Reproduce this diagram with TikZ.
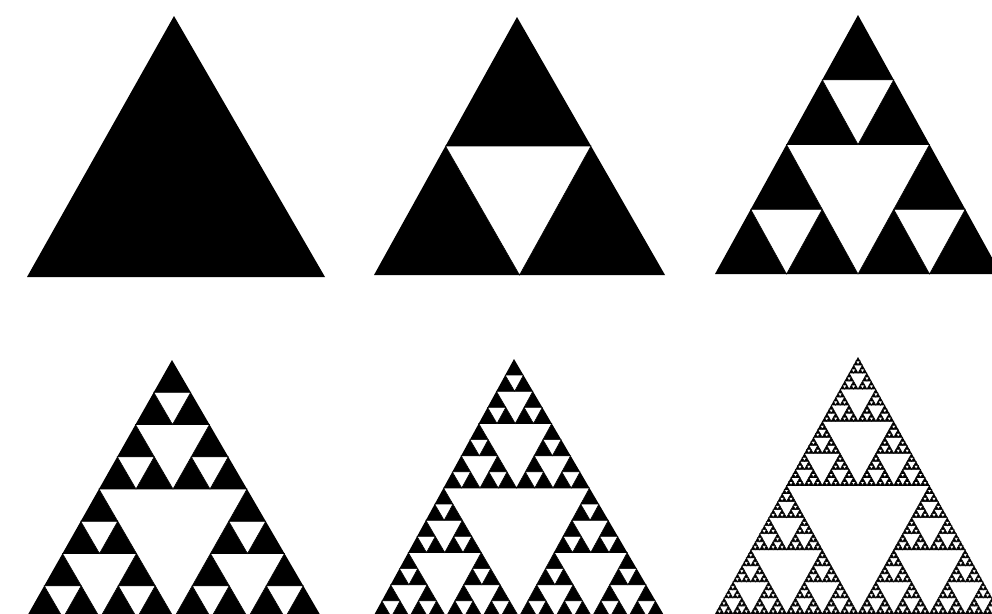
\documentclass[tikz,border=0pt]{standalone}

% holes of a Sierpinski gasket: depth, then the three corners
\newcommand\gasketholes[7]{%
  \ifnum#1>0\relax
    \begingroup
    \pgfmathsetmacro\hax{(#2+#4)/2}\pgfmathsetmacro\hay{(#3+#5)/2}%
    \pgfmathsetmacro\hbx{(#4+#6)/2}\pgfmathsetmacro\hby{(#5+#7)/2}%
    \pgfmathsetmacro\hcx{(#6+#2)/2}\pgfmathsetmacro\hcy{(#7+#3)/2}%
    \pgfmathtruncatemacro\hdepth{#1-1}%
    \filldraw[hole] (\hax,\hay) -- (\hbx,\hby) -- (\hcx,\hcy) -- cycle;
    \edef\hnext{%
      \noexpand\gasketholes{\hdepth}{#2}{#3}{\hax}{\hay}{\hcx}{\hcy}%
      \noexpand\gasketholes{\hdepth}{\hax}{\hay}{#4}{#5}{\hbx}{\hby}%
      \noexpand\gasketholes{\hdepth}{\hcx}{\hcy}{\hbx}{\hby}{#6}{#7}}%
    \hnext
    \endgroup
  \fi}
\newcommand\gasket[7]{%
  \fill[solidtri] (#2,#3) -- (#4,#5) -- (#6,#7) -- cycle;
  \gasketholes{#1}{#2}{#3}{#4}{#5}{#6}{#7}}

\begin{document}
\begin{tikzpicture}[
  x=1pt, y=-1pt,
  solidtri/.style={fill=black},
  hole/.style={fill=white, draw=black, line width=0.6pt}
]
\fill[white] (0,0) rectangle (992,613);
\clip (0,0) rectangle (992,613);

% top row: steps 0, 1, 2
\gasket{0}{174}{16}{27}{277}{325}{277}
\gasket{1}{517}{17}{374}{275}{665}{275}
\gasket{2}{858}{15}{715}{274}{1001}{274}

% bottom row: steps 3, 4, 6
\gasket{3}{172}{360}{26}{618}{322}{618}
\gasket{4}{514}{359}{373}{617}{665}{617}
\gasket{6}{858}{357}{715}{614}{1001}{614}
\end{tikzpicture}
\end{document}
